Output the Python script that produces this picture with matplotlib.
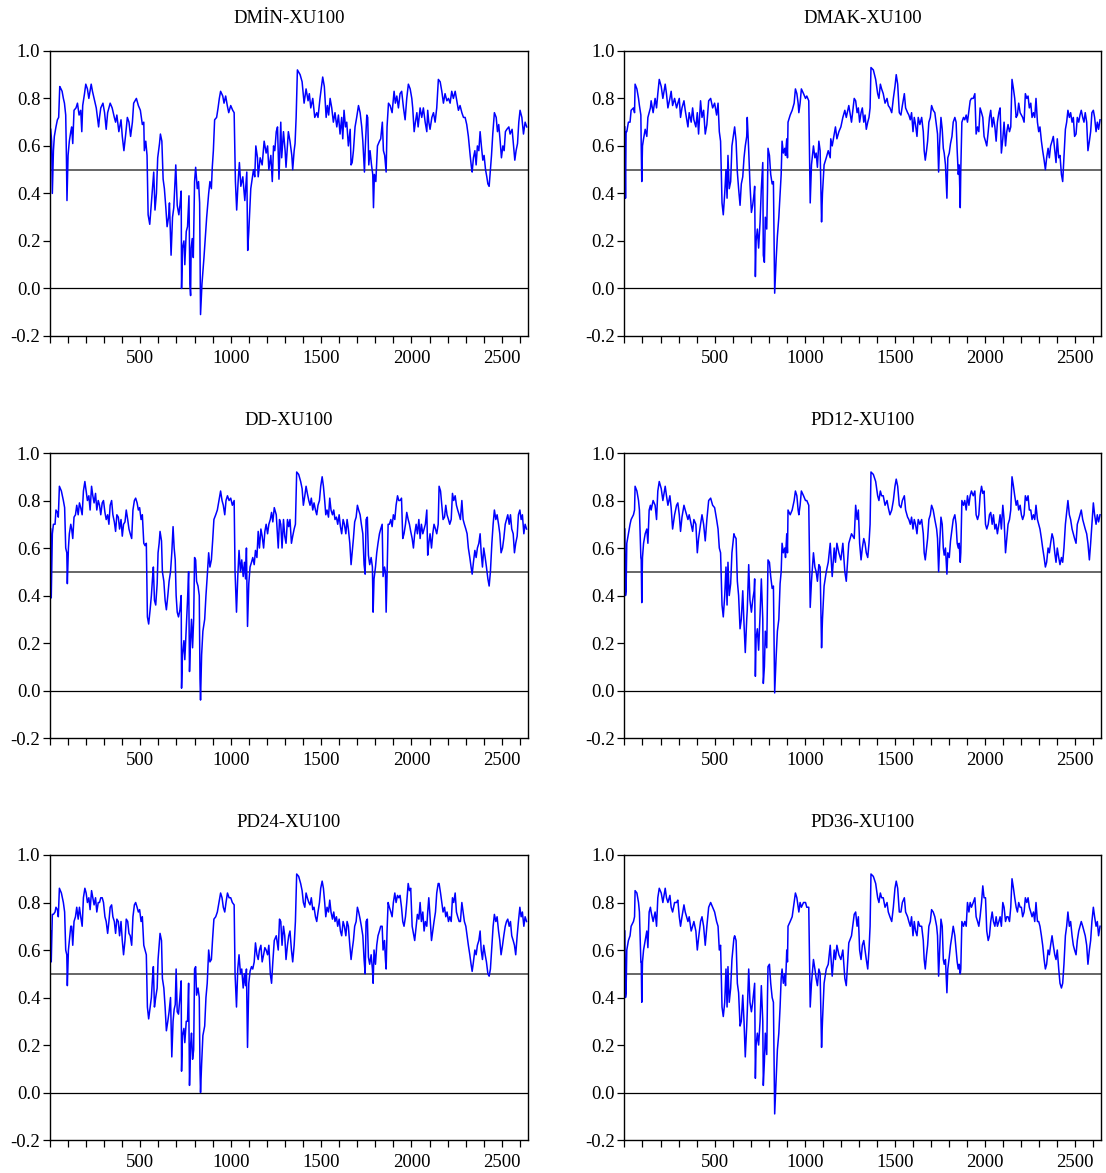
import matplotlib
matplotlib.use("Agg")
import matplotlib.pyplot as plt
from matplotlib.ticker import MultipleLocator, FuncFormatter

plt.rcParams['font.family'] = ['Liberation Serif', 'DejaVu Serif']
plt.rcParams['axes.unicode_minus'] = False

# ---------------- data (observation number, correlation) ----------------
titles = ["DMİN-XU100", "DMAK-XU100", "DD-XU100", "PD12-XU100", "PD24-XU100", "PD36-XU100"]

# DMIN-XU100
dmin_obs = [4, 9, 13, 19, 24, 33, 41, 48, 54, 61,
            67, 74, 80, 87, 91, 94, 100, 107, 115, 120,
            126, 133, 144, 152, 161, 170, 176, 181, 191, 198,
            207, 215, 228, 235, 244, 256, 269, 274, 281, 293,
            302, 311, 319, 333, 344, 356, 363, 370, 381, 393,
            400, 409, 419, 428, 437, 446, 456, 463, 478, 489,
            500, 511, 519, 522, 530, 537, 543, 552, 559, 570,
            574, 581, 589, 596, 606, 611, 619, 626, 633, 641,
            648, 656, 661, 670, 678, 685, 696, 704, 713, 719,
            726, 728, 733, 741, 746, 754, 761, 769, 774, 778,
            781, 787, 793, 800, 806, 815, 822, 828, 833, 841,
            852, 867, 878, 885, 893, 898, 904, 911, 922, 930,
            937, 944, 956, 963, 972, 981, 989, 1000, 1011, 1019,
            1026, 1033, 1041, 1048, 1056, 1067, 1078, 1089, 1094, 1100,
            1111, 1126, 1133, 1139, 1148, 1152, 1163, 1174, 1185, 1196,
            1204, 1211, 1222, 1230, 1237, 1244, 1252, 1259, 1267,
            1277, 1282, 1292, 1301, 1306, 1319, 1328, 1338, 1343, 1351,
            1356, 1362, 1369, 1384, 1395, 1406, 1417, 1428, 1435, 1443,
            1454, 1465, 1476, 1483, 1494, 1504, 1509, 1518, 1528, 1535,
            1542, 1550, 1559, 1568, 1577, 1587, 1596, 1605, 1614, 1620,
            1627, 1635, 1642, 1651, 1661, 1666, 1672, 1679, 1688, 1697,
            1707, 1716, 1725, 1731, 1740, 1745, 1753, 1758, 1764, 1771,
            1779, 1786, 1790, 1795, 1803, 1812, 1823, 1830, 1839, 1845,
            1852, 1860, 1865, 1873, 1882, 1893, 1904, 1911, 1919, 1928,
            1937, 1946, 1956, 1965, 1974, 1983, 1993, 2002, 2007, 2015,
            2022, 2030, 2037, 2048, 2057, 2066, 2076, 2085, 2090, 2096,
            2103, 2113, 2122, 2131, 2140, 2149, 2159, 2168, 2177, 2186,
            2196, 2205, 2214, 2223, 2232, 2242, 2251, 2260, 2269, 2279,
            2288, 2297, 2306, 2315, 2325, 2332, 2336, 2343, 2351, 2358,
            2365, 2373, 2380, 2387, 2395, 2402, 2410, 2417, 2423, 2430,
            2435, 2443, 2450, 2459, 2469, 2476, 2483, 2491, 2498, 2506,
            2513, 2520, 2528, 2539, 2546, 2557, 2565, 2572, 2579, 2587,
            2594, 2601, 2611, 2620, 2629, 2638]
dmin_val = [0.67, 0.62, 0.40, 0.58, 0.64, 0.68, 0.71, 0.72, 0.85, 0.84,
            0.83, 0.80, 0.78, 0.73, 0.55, 0.37, 0.56, 0.62, 0.66, 0.68,
            0.61, 0.75, 0.76, 0.78, 0.73, 0.75, 0.66, 0.77, 0.82, 0.86,
            0.84, 0.80, 0.86, 0.83, 0.80, 0.76, 0.68, 0.72, 0.76, 0.78,
            0.74, 0.67, 0.74, 0.78, 0.76, 0.72, 0.70, 0.73, 0.66, 0.71,
            0.64, 0.58, 0.65, 0.72, 0.70, 0.64, 0.70, 0.78, 0.80, 0.77,
            0.75, 0.69, 0.70, 0.58, 0.62, 0.56, 0.31, 0.27, 0.34, 0.45,
            0.49, 0.33, 0.40, 0.55, 0.61, 0.65, 0.62, 0.46, 0.42, 0.34,
            0.26, 0.30, 0.36, 0.14, 0.30, 0.34, 0.52, 0.35, 0.31, 0.35,
            0.41, 0.00, 0.17, 0.20, 0.10, 0.24, 0.26, 0.39, 0.02, -0.03,
            0.17, 0.21, 0.13, 0.45, 0.51, 0.42, 0.45, 0.36, -0.11, 0.02,
            0.13, 0.30, 0.40, 0.45, 0.42, 0.51, 0.58, 0.71, 0.72, 0.76,
            0.80, 0.83, 0.81, 0.78, 0.81, 0.77, 0.74, 0.77, 0.75, 0.74,
            0.45, 0.33, 0.45, 0.53, 0.43, 0.47, 0.37, 0.49, 0.16, 0.24,
            0.42, 0.50, 0.47, 0.60, 0.55, 0.47, 0.55, 0.52, 0.62, 0.57,
            0.60, 0.50, 0.56, 0.45, 0.60, 0.58, 0.66, 0.68, 0.46,
            0.70, 0.55, 0.66, 0.58, 0.51, 0.66, 0.62, 0.56, 0.50, 0.58,
            0.61, 0.72, 0.92, 0.90, 0.87, 0.78, 0.84, 0.79, 0.82, 0.76,
            0.80, 0.72, 0.74, 0.72, 0.80, 0.86, 0.89, 0.85, 0.72, 0.77,
            0.73, 0.80, 0.76, 0.70, 0.74, 0.68, 0.73, 0.65, 0.72, 0.63,
            0.75, 0.68, 0.70, 0.60, 0.67, 0.52, 0.53, 0.58, 0.68, 0.72,
            0.77, 0.74, 0.68, 0.62, 0.49, 0.60, 0.73, 0.72, 0.52, 0.58,
            0.52, 0.48, 0.34, 0.48, 0.45, 0.60, 0.62, 0.63, 0.70, 0.58,
            0.56, 0.49, 0.68, 0.78, 0.77, 0.74, 0.83, 0.78, 0.81, 0.76,
            0.82, 0.83, 0.76, 0.71, 0.80, 0.86, 0.84, 0.80, 0.76, 0.66,
            0.70, 0.74, 0.68, 0.76, 0.72, 0.76, 0.70, 0.66, 0.75, 0.70,
            0.67, 0.72, 0.74, 0.70, 0.76, 0.88, 0.87, 0.83, 0.78, 0.82,
            0.79, 0.80, 0.78, 0.83, 0.80, 0.83, 0.79, 0.75, 0.77, 0.74,
            0.72, 0.72, 0.69, 0.64, 0.56, 0.51, 0.49, 0.55, 0.58, 0.52,
            0.60, 0.58, 0.66, 0.60, 0.54, 0.56, 0.50, 0.47, 0.44, 0.43,
            0.48, 0.56, 0.65, 0.74, 0.72, 0.66, 0.69, 0.62, 0.55, 0.60,
            0.58, 0.66, 0.67, 0.68, 0.65, 0.67, 0.60, 0.54, 0.58, 0.61,
            0.70, 0.75, 0.72, 0.65, 0.70, 0.68]

# Shared observation grid for DD-XU100 and PD24-XU100
obs_a = [4, 7, 13, 19, 28, 33, 41, 46, 52, 63,
         74, 81, 87, 93, 96, 102, 107, 115, 120, 126,
         133, 141, 148, 156, 163, 170, 178, 185, 193, 200,
         207, 215, 222, 230, 237, 244, 252, 259, 267, 274,
         281, 289, 296, 304, 311, 319, 326, 333, 341, 348,
         356, 363, 370, 378, 385, 393, 400, 407, 415, 422,
         430, 437, 444, 452, 459, 467, 474, 482, 489, 496,
         504, 511, 519, 526, 533, 539, 546, 554, 561, 567,
         572, 578, 585, 593, 598, 604, 609, 617, 622, 630,
         637, 644, 652, 659, 667, 674, 681, 687, 693, 698,
         704, 711, 719, 726, 728, 733, 741, 746, 754, 761,
         767, 772, 778, 783, 789, 795, 800, 806, 811, 819,
         826, 830, 833, 839, 846, 856, 863, 870, 878, 885,
         893, 900, 907, 917, 926, 935, 944, 952, 959, 967,
         974, 982, 991, 1000, 1009, 1019, 1024, 1032, 1039, 1046,
         1054, 1061, 1069, 1076, 1082, 1087, 1093, 1100, 1107, 1115,
         1122, 1130, 1137, 1145, 1152, 1159, 1167, 1174, 1182, 1189,
         1196, 1204, 1211, 1219, 1226, 1233, 1241, 1252, 1263, 1270,
         1277, 1284, 1292, 1299, 1306, 1314, 1321, 1328, 1336, 1343,
         1351, 1358, 1365, 1376, 1387, 1395, 1402, 1410, 1417, 1424,
         1432, 1439, 1446, 1454, 1461, 1469, 1476, 1483, 1491, 1498,
         1506, 1513, 1520, 1526, 1533, 1541, 1548, 1555, 1563, 1570,
         1577, 1585, 1592, 1600, 1607, 1614, 1622, 1629, 1637, 1644,
         1651, 1659, 1666, 1672, 1679, 1686, 1694, 1701, 1708, 1716,
         1723, 1731, 1738, 1744, 1749, 1756, 1762, 1769, 1777, 1784,
         1788, 1793, 1801, 1808, 1815, 1823, 1830, 1838, 1843, 1851,
         1856, 1860, 1865, 1871, 1878, 1886, 1893, 1900, 1908, 1915,
         1923, 1930, 1937, 1945, 1952, 1959, 1967, 1974, 1982, 1989,
         1996, 2004, 2011, 2018, 2026, 2033, 2041, 2048, 2055, 2063,
         2070, 2077, 2085, 2090, 2096, 2103, 2111, 2118, 2125, 2133,
         2140, 2148, 2153, 2161, 2168, 2175, 2183, 2190, 2197, 2205,
         2212, 2220, 2227, 2234, 2242, 2249, 2256, 2264, 2271, 2279,
         2286, 2293, 2301, 2308, 2315, 2323, 2330, 2336, 2343, 2351,
         2358, 2365, 2373, 2380, 2386, 2393, 2400, 2408, 2415, 2423,
         2430, 2437, 2445, 2452, 2459, 2467, 2474, 2482, 2489, 2496,
         2504, 2511, 2519, 2526, 2533, 2541, 2548, 2555, 2563, 2570,
         2577, 2585, 2592, 2600, 2607, 2614, 2622, 2629, 2637]

dd_val = [0.68, 0.39, 0.66, 0.70, 0.70, 0.76, 0.75, 0.73, 0.86, 0.84,
          0.80, 0.77, 0.60, 0.58, 0.45, 0.60, 0.66, 0.70, 0.68, 0.64,
          0.73, 0.74, 0.78, 0.74, 0.79, 0.77, 0.74, 0.84, 0.88, 0.84,
          0.80, 0.82, 0.76, 0.86, 0.82, 0.79, 0.83, 0.76, 0.80, 0.78,
          0.74, 0.79, 0.80, 0.75, 0.72, 0.74, 0.70, 0.78, 0.80, 0.74,
          0.71, 0.67, 0.74, 0.73, 0.68, 0.72, 0.65, 0.70, 0.71, 0.76,
          0.72, 0.68, 0.66, 0.64, 0.76, 0.80, 0.81, 0.79, 0.76, 0.77,
          0.72, 0.74, 0.62, 0.61, 0.62, 0.31, 0.28, 0.34, 0.40, 0.47,
          0.52, 0.38, 0.36, 0.45, 0.58, 0.62, 0.67, 0.63, 0.50, 0.46,
          0.38, 0.34, 0.40, 0.46, 0.50, 0.58, 0.69, 0.60, 0.55, 0.40,
          0.33, 0.31, 0.34, 0.40, 0.01, 0.15, 0.21, 0.13, 0.26, 0.38,
          0.50, 0.08, 0.22, 0.30, 0.18, 0.30, 0.56, 0.55, 0.46, 0.44,
          0.40, 0.05, -0.04, 0.15, 0.25, 0.30, 0.40, 0.48, 0.58, 0.52,
          0.55, 0.63, 0.72, 0.74, 0.76, 0.80, 0.84, 0.80, 0.78, 0.74,
          0.80, 0.82, 0.80, 0.81, 0.78, 0.80, 0.50, 0.33, 0.48, 0.59,
          0.50, 0.55, 0.48, 0.54, 0.47, 0.60, 0.27, 0.45, 0.52, 0.54,
          0.56, 0.53, 0.59, 0.56, 0.67, 0.60, 0.68, 0.65, 0.60, 0.67,
          0.70, 0.66, 0.70, 0.72, 0.75, 0.71, 0.77, 0.74, 0.60, 0.72,
          0.70, 0.60, 0.72, 0.65, 0.62, 0.72, 0.69, 0.72, 0.62, 0.65,
          0.68, 0.70, 0.92, 0.91, 0.88, 0.85, 0.78, 0.82, 0.86, 0.83,
          0.80, 0.78, 0.81, 0.76, 0.79, 0.76, 0.74, 0.78, 0.80, 0.86,
          0.90, 0.86, 0.80, 0.74, 0.76, 0.73, 0.81, 0.76, 0.74, 0.76,
          0.72, 0.73, 0.70, 0.74, 0.69, 0.66, 0.72, 0.70, 0.66, 0.72,
          0.68, 0.62, 0.53, 0.58, 0.64, 0.71, 0.73, 0.78, 0.76, 0.74,
          0.70, 0.66, 0.53, 0.49, 0.72, 0.73, 0.57, 0.53, 0.56, 0.52,
          0.33, 0.47, 0.52, 0.58, 0.62, 0.66, 0.68, 0.70, 0.48, 0.52,
          0.50, 0.33, 0.48, 0.70, 0.70, 0.72, 0.69, 0.74, 0.72, 0.78,
          0.82, 0.80, 0.80, 0.81, 0.64, 0.66, 0.70, 0.75, 0.72, 0.70,
          0.67, 0.64, 0.60, 0.66, 0.70, 0.66, 0.72, 0.64, 0.70, 0.66,
          0.68, 0.70, 0.76, 0.57, 0.62, 0.66, 0.60, 0.66, 0.70, 0.68,
          0.66, 0.70, 0.86, 0.84, 0.78, 0.72, 0.73, 0.78, 0.74, 0.72,
          0.70, 0.72, 0.83, 0.80, 0.82, 0.78, 0.76, 0.74, 0.72, 0.80,
          0.72, 0.70, 0.68, 0.66, 0.60, 0.56, 0.52, 0.49, 0.54, 0.59,
          0.56, 0.60, 0.62, 0.66, 0.58, 0.52, 0.60, 0.56, 0.52, 0.47,
          0.44, 0.50, 0.62, 0.70, 0.76, 0.72, 0.74, 0.70, 0.66, 0.58,
          0.60, 0.64, 0.70, 0.72, 0.74, 0.70, 0.74, 0.68, 0.66, 0.58,
          0.62, 0.65, 0.74, 0.76, 0.72, 0.74, 0.66, 0.70, 0.68]

pd24_val = [0.68, 0.55, 0.75, 0.75, 0.76, 0.78, 0.77, 0.74, 0.86, 0.84,
            0.80, 0.76, 0.60, 0.58, 0.45, 0.60, 0.64, 0.70, 0.70, 0.62,
            0.72, 0.74, 0.78, 0.73, 0.78, 0.74, 0.70, 0.82, 0.86, 0.84,
            0.80, 0.82, 0.77, 0.85, 0.82, 0.79, 0.82, 0.76, 0.80, 0.80,
            0.82, 0.82, 0.80, 0.74, 0.72, 0.67, 0.72, 0.78, 0.79, 0.74,
            0.72, 0.67, 0.73, 0.72, 0.66, 0.72, 0.64, 0.58, 0.64, 0.73,
            0.72, 0.67, 0.66, 0.62, 0.74, 0.79, 0.80, 0.78, 0.76, 0.77,
            0.72, 0.74, 0.62, 0.60, 0.58, 0.36, 0.31, 0.36, 0.40, 0.48,
            0.53, 0.36, 0.40, 0.44, 0.56, 0.62, 0.67, 0.64, 0.48, 0.44,
            0.36, 0.26, 0.30, 0.34, 0.40, 0.15, 0.30, 0.35, 0.37, 0.52,
            0.34, 0.33, 0.40, 0.47, 0.09, 0.24, 0.27, 0.21, 0.30, 0.30,
            0.46, 0.03, 0.20, 0.25, 0.14, 0.18, 0.52, 0.53, 0.41, 0.44,
            0.40, 0.10, 0.00, 0.12, 0.24, 0.28, 0.40, 0.46, 0.60, 0.55,
            0.56, 0.65, 0.73, 0.74, 0.76, 0.80, 0.84, 0.82, 0.78, 0.76,
            0.80, 0.84, 0.82, 0.82, 0.80, 0.79, 0.50, 0.36, 0.52, 0.58,
            0.50, 0.52, 0.44, 0.50, 0.45, 0.52, 0.19, 0.46, 0.51, 0.53,
            0.52, 0.55, 0.63, 0.58, 0.56, 0.60, 0.62, 0.55, 0.58, 0.61,
            0.60, 0.58, 0.62, 0.50, 0.46, 0.55, 0.64, 0.66, 0.60, 0.73,
            0.72, 0.62, 0.70, 0.66, 0.56, 0.62, 0.66, 0.68, 0.60, 0.55,
            0.62, 0.72, 0.92, 0.91, 0.88, 0.85, 0.80, 0.78, 0.84, 0.82,
            0.80, 0.79, 0.82, 0.77, 0.78, 0.74, 0.72, 0.76, 0.80, 0.86,
            0.89, 0.86, 0.80, 0.74, 0.78, 0.76, 0.81, 0.76, 0.73, 0.76,
            0.72, 0.74, 0.70, 0.73, 0.68, 0.66, 0.72, 0.70, 0.66, 0.72,
            0.70, 0.62, 0.56, 0.60, 0.64, 0.70, 0.72, 0.78, 0.76, 0.73,
            0.70, 0.66, 0.56, 0.50, 0.72, 0.73, 0.57, 0.54, 0.58, 0.52,
            0.46, 0.60, 0.54, 0.62, 0.66, 0.68, 0.70, 0.70, 0.60, 0.64,
            0.56, 0.52, 0.68, 0.80, 0.78, 0.76, 0.74, 0.80, 0.84, 0.80,
            0.83, 0.82, 0.83, 0.78, 0.72, 0.70, 0.74, 0.80, 0.88, 0.85,
            0.86, 0.70, 0.67, 0.64, 0.70, 0.75, 0.73, 0.80, 0.72, 0.76,
            0.68, 0.72, 0.70, 0.76, 0.82, 0.74, 0.64, 0.68, 0.72, 0.76,
            0.84, 0.88, 0.88, 0.84, 0.80, 0.76, 0.78, 0.74, 0.76, 0.72,
            0.74, 0.72, 0.82, 0.80, 0.84, 0.76, 0.74, 0.72, 0.72, 0.80,
            0.76, 0.72, 0.70, 0.66, 0.62, 0.58, 0.54, 0.51, 0.55, 0.60,
            0.58, 0.62, 0.64, 0.68, 0.60, 0.56, 0.62, 0.58, 0.55, 0.50,
            0.49, 0.52, 0.62, 0.70, 0.75, 0.72, 0.74, 0.68, 0.64, 0.58,
            0.62, 0.66, 0.70, 0.72, 0.73, 0.70, 0.72, 0.66, 0.64, 0.62,
            0.58, 0.66, 0.72, 0.78, 0.74, 0.76, 0.70, 0.74, 0.72]

# Shared observation grid for DMAK-XU100, PD12-XU100 and PD36-XU100
obs_b = [2, 6, 9, 13, 22, 31, 37, 50, 56, 59,
         69, 78, 83, 91, 93, 96, 100, 106, 115, 124,
         130, 137, 144, 148, 159, 170, 178, 185, 193, 204,
         213, 226, 233, 241, 252, 259, 267, 278, 289, 296,
         304, 311, 319, 330, 337, 352, 359, 370, 378, 385,
         396, 404, 411, 422, 430, 439, 448, 457, 467, 478,
         489, 500, 511, 519, 526, 533, 541, 548, 556, 563,
         569, 574, 581, 589, 596, 607, 611, 619, 626, 633,
         641, 648, 656, 663, 670, 678, 681, 689, 696, 704,
         711, 719, 722, 726, 730, 737, 744, 752, 759, 767,
         770, 776, 781, 789, 793, 796, 804, 811, 819, 826,
         830, 833, 841, 848, 856, 863, 869, 874, 881, 889,
         893, 900, 904, 907, 919, 930, 941, 948, 956, 963,
         967, 974, 981, 993, 1004, 1011, 1022, 1030, 1037, 1048,
         1056, 1063, 1070, 1078, 1085, 1093, 1098, 1107, 1119, 1130,
         1141, 1144, 1152, 1163, 1170, 1178, 1189, 1200, 1211, 1222,
         1230, 1244, 1259, 1274,
         1282, 1290, 1297, 1304, 1312, 1319, 1327, 1334, 1341, 1349,
         1356, 1362, 1367, 1380, 1393, 1404, 1411, 1419, 1426, 1435,
         1445, 1456, 1463, 1472, 1482, 1491, 1500, 1507, 1515, 1524,
         1533, 1541, 1552, 1559, 1570, 1577, 1585, 1592, 1600, 1607,
         1614, 1622, 1629, 1638, 1648, 1657, 1662, 1668, 1675, 1681,
         1688, 1696, 1703, 1712, 1721, 1731, 1736, 1742, 1747, 1755,
         1762, 1768, 1773, 1780, 1788, 1793, 1801, 1808, 1816, 1823,
         1832, 1839, 1845, 1851, 1856, 1862, 1865, 1871, 1880, 1887,
         1895, 1902, 1910, 1917, 1924, 1934, 1943, 1950, 1958, 1965,
         1972, 1980, 1987, 1994, 2002, 2009, 2017, 2024, 2031, 2039,
         2046, 2054, 2061, 2068, 2076, 2083, 2090, 2098, 2105, 2113,
         2120, 2127, 2135, 2142, 2149, 2157, 2164, 2172, 2179, 2186,
         2194, 2201, 2208, 2216, 2223, 2231, 2238, 2245, 2253, 2260,
         2268, 2275, 2282, 2290, 2297, 2304, 2312, 2319, 2327, 2334,
         2341, 2349, 2356, 2363, 2371, 2378, 2386, 2393, 2400, 2408,
         2415, 2423, 2430, 2437, 2445, 2452, 2459, 2467, 2474, 2482,
         2489, 2496, 2504, 2511, 2519, 2526, 2533, 2541, 2548, 2555,
         2563, 2570, 2578, 2585, 2592, 2600, 2607, 2615, 2622, 2629, 2637]

dmak_val = [0.68, 0.38, 0.66, 0.66, 0.70, 0.70, 0.75, 0.76, 0.74, 0.86,
            0.84, 0.80, 0.77, 0.73, 0.60, 0.45, 0.60, 0.63, 0.67, 0.64,
            0.72, 0.74, 0.76, 0.79, 0.74, 0.80, 0.76, 0.82, 0.88, 0.85,
            0.80, 0.86, 0.82, 0.76, 0.80, 0.83, 0.77, 0.80, 0.76, 0.78,
            0.80, 0.72, 0.76, 0.79, 0.75, 0.68, 0.74, 0.70, 0.76, 0.71,
            0.68, 0.74, 0.65, 0.79, 0.72, 0.75, 0.65, 0.69, 0.79, 0.80,
            0.76, 0.78, 0.73, 0.78, 0.66, 0.62, 0.36, 0.31, 0.40, 0.50,
            0.38, 0.56, 0.42, 0.45, 0.60, 0.66, 0.68, 0.62, 0.49, 0.42,
            0.35, 0.44, 0.47, 0.55, 0.60, 0.64, 0.72, 0.58, 0.44, 0.32,
            0.35, 0.40, 0.43, 0.05, 0.20, 0.25, 0.17, 0.28, 0.42, 0.53,
            0.14, 0.11, 0.30, 0.25, 0.41, 0.59, 0.56, 0.48, 0.44, 0.45,
            0.17, -0.02, 0.12, 0.22, 0.30, 0.40, 0.48, 0.62, 0.57, 0.59,
            0.56, 0.63, 0.55, 0.70, 0.73, 0.75, 0.78, 0.84, 0.82, 0.78,
            0.74, 0.78, 0.84, 0.82, 0.80, 0.81, 0.79, 0.36, 0.52, 0.60,
            0.55, 0.57, 0.51, 0.62, 0.58, 0.28, 0.40, 0.52, 0.55, 0.58,
            0.55, 0.63, 0.60, 0.65, 0.68, 0.63, 0.66, 0.68, 0.72, 0.75,
            0.72, 0.77, 0.70, 0.80,
            0.79, 0.74, 0.76, 0.70, 0.74, 0.76, 0.70, 0.73, 0.67, 0.70,
            0.72, 0.76, 0.93, 0.92, 0.88, 0.82, 0.80, 0.86, 0.84, 0.82,
            0.78, 0.80, 0.77, 0.76, 0.74, 0.80, 0.85, 0.90, 0.86, 0.74,
            0.73, 0.77, 0.82, 0.76, 0.74, 0.73, 0.71, 0.74, 0.66, 0.72,
            0.69, 0.64, 0.72, 0.69, 0.72, 0.66, 0.58, 0.54, 0.58, 0.62,
            0.70, 0.72, 0.77, 0.75, 0.74, 0.68, 0.65, 0.49, 0.60, 0.72,
            0.67, 0.59, 0.57, 0.52, 0.38, 0.55, 0.57, 0.61, 0.64, 0.70,
            0.72, 0.70, 0.58, 0.48, 0.52, 0.34, 0.50, 0.70, 0.72, 0.71,
            0.73, 0.70, 0.75, 0.79, 0.80, 0.80, 0.82, 0.65, 0.68, 0.66,
            0.76, 0.74, 0.72, 0.64, 0.62, 0.60, 0.66, 0.72, 0.75, 0.68,
            0.72, 0.68, 0.62, 0.70, 0.74, 0.76, 0.57, 0.63, 0.70, 0.60,
            0.66, 0.69, 0.66, 0.68, 0.88, 0.84, 0.80, 0.72, 0.73, 0.78,
            0.74, 0.73, 0.72, 0.70, 0.82, 0.80, 0.81, 0.76, 0.78, 0.72,
            0.74, 0.72, 0.80, 0.70, 0.66, 0.68, 0.62, 0.58, 0.54, 0.50,
            0.55, 0.59, 0.55, 0.60, 0.62, 0.64, 0.58, 0.53, 0.63, 0.55,
            0.56, 0.48, 0.45, 0.55, 0.67, 0.70, 0.75, 0.72, 0.74, 0.70,
            0.72, 0.64, 0.65, 0.72, 0.70, 0.73, 0.75, 0.72, 0.70, 0.74,
            0.70, 0.58, 0.62, 0.66, 0.74, 0.75, 0.72, 0.66, 0.70, 0.67, 0.71]

pd12_val = [0.68, 0.40, 0.42, 0.62, 0.66, 0.70, 0.72, 0.74, 0.76, 0.86,
            0.84, 0.80, 0.76, 0.56, 0.55, 0.37, 0.56, 0.62, 0.66, 0.68,
            0.62, 0.76, 0.78, 0.76, 0.80, 0.78, 0.72, 0.84, 0.88, 0.85,
            0.80, 0.86, 0.82, 0.78, 0.82, 0.77, 0.68, 0.74, 0.78, 0.79,
            0.74, 0.67, 0.73, 0.78, 0.76, 0.72, 0.74, 0.70, 0.67, 0.72,
            0.70, 0.58, 0.64, 0.70, 0.74, 0.70, 0.63, 0.72, 0.80, 0.81,
            0.78, 0.77, 0.72, 0.68, 0.60, 0.58, 0.36, 0.31, 0.40, 0.52,
            0.36, 0.54, 0.40, 0.45, 0.58, 0.66, 0.65, 0.64, 0.46, 0.40,
            0.26, 0.30, 0.42, 0.28, 0.16, 0.30, 0.34, 0.53, 0.38, 0.33,
            0.38, 0.42, 0.47, 0.06, 0.22, 0.26, 0.17, 0.32, 0.47, 0.30,
            0.03, 0.10, 0.25, 0.18, 0.40, 0.55, 0.54, 0.48, 0.43, 0.44,
            0.20, -0.01, 0.14, 0.25, 0.30, 0.45, 0.50, 0.62, 0.58, 0.60,
            0.56, 0.66, 0.58, 0.76, 0.74, 0.76, 0.80, 0.84, 0.82, 0.76,
            0.74, 0.78, 0.84, 0.82, 0.80, 0.80, 0.78, 0.35, 0.46, 0.58,
            0.52, 0.50, 0.46, 0.53, 0.52, 0.18, 0.30, 0.44, 0.50, 0.54,
            0.62, 0.58, 0.48, 0.60, 0.54, 0.62, 0.58, 0.55, 0.62, 0.50,
            0.46, 0.62, 0.66, 0.64,
            0.78, 0.72, 0.76, 0.62, 0.55, 0.60, 0.64, 0.62, 0.58, 0.56,
            0.62, 0.70, 0.92, 0.91, 0.88, 0.82, 0.80, 0.84, 0.82, 0.82,
            0.78, 0.80, 0.77, 0.74, 0.76, 0.80, 0.86, 0.89, 0.86, 0.78,
            0.77, 0.80, 0.82, 0.76, 0.73, 0.72, 0.70, 0.73, 0.68, 0.72,
            0.70, 0.66, 0.72, 0.70, 0.72, 0.66, 0.58, 0.55, 0.60, 0.64,
            0.72, 0.74, 0.78, 0.76, 0.72, 0.68, 0.64, 0.50, 0.60, 0.73,
            0.70, 0.60, 0.57, 0.60, 0.49, 0.58, 0.56, 0.63, 0.68, 0.72,
            0.74, 0.70, 0.62, 0.60, 0.62, 0.54, 0.58, 0.80, 0.78, 0.80,
            0.76, 0.82, 0.78, 0.82, 0.84, 0.82, 0.84, 0.74, 0.72, 0.74,
            0.82, 0.86, 0.83, 0.84, 0.70, 0.68, 0.70, 0.74, 0.75, 0.70,
            0.74, 0.68, 0.70, 0.66, 0.70, 0.74, 0.68, 0.78, 0.72, 0.58,
            0.64, 0.70, 0.72, 0.76, 0.90, 0.86, 0.82, 0.78, 0.80, 0.76,
            0.78, 0.74, 0.72, 0.74, 0.82, 0.80, 0.82, 0.76, 0.76, 0.72,
            0.74, 0.72, 0.78, 0.72, 0.70, 0.68, 0.64, 0.60, 0.56, 0.52,
            0.54, 0.60, 0.58, 0.62, 0.66, 0.64, 0.58, 0.54, 0.60, 0.56,
            0.53, 0.56, 0.54, 0.60, 0.70, 0.75, 0.80, 0.74, 0.72, 0.68,
            0.66, 0.64, 0.62, 0.70, 0.72, 0.74, 0.76, 0.72, 0.70, 0.68,
            0.66, 0.62, 0.55, 0.62, 0.70, 0.79, 0.74, 0.70, 0.74, 0.71, 0.74]

pd36_val = [0.68, 0.40, 0.42, 0.60, 0.64, 0.66, 0.70, 0.72, 0.74, 0.85,
            0.84, 0.80, 0.76, 0.55, 0.55, 0.38, 0.55, 0.60, 0.64, 0.68,
            0.61, 0.76, 0.78, 0.76, 0.72, 0.76, 0.70, 0.82, 0.86, 0.84,
            0.80, 0.86, 0.82, 0.80, 0.83, 0.78, 0.76, 0.80, 0.80, 0.81,
            0.74, 0.70, 0.74, 0.79, 0.76, 0.72, 0.74, 0.68, 0.70, 0.72,
            0.68, 0.60, 0.65, 0.72, 0.74, 0.70, 0.62, 0.70, 0.78, 0.80,
            0.78, 0.76, 0.72, 0.70, 0.60, 0.62, 0.36, 0.32, 0.38, 0.52,
            0.36, 0.53, 0.38, 0.44, 0.56, 0.65, 0.66, 0.64, 0.46, 0.42,
            0.28, 0.30, 0.41, 0.30, 0.15, 0.28, 0.34, 0.52, 0.38, 0.34,
            0.38, 0.44, 0.46, 0.06, 0.20, 0.25, 0.20, 0.30, 0.45, 0.30,
            0.03, 0.13, 0.25, 0.16, 0.40, 0.53, 0.54, 0.46, 0.40, 0.38,
            0.10, -0.09, 0.06, 0.18, 0.25, 0.36, 0.48, 0.52, 0.46, 0.50,
            0.45, 0.60, 0.55, 0.70, 0.72, 0.74, 0.80, 0.84, 0.82, 0.78,
            0.76, 0.80, 0.78, 0.80, 0.80, 0.78, 0.78, 0.36, 0.46, 0.56,
            0.52, 0.48, 0.45, 0.52, 0.50, 0.19, 0.30, 0.46, 0.52, 0.54,
            0.62, 0.58, 0.49, 0.60, 0.56, 0.62, 0.58, 0.56, 0.60, 0.48,
            0.45, 0.63, 0.66, 0.75,
            0.76, 0.70, 0.74, 0.60, 0.56, 0.62, 0.64, 0.60, 0.56, 0.52,
            0.60, 0.70, 0.92, 0.91, 0.88, 0.82, 0.80, 0.84, 0.82, 0.82,
            0.78, 0.80, 0.76, 0.74, 0.72, 0.78, 0.86, 0.89, 0.86, 0.76,
            0.76, 0.80, 0.82, 0.76, 0.74, 0.72, 0.70, 0.74, 0.66, 0.72,
            0.68, 0.66, 0.72, 0.70, 0.70, 0.64, 0.56, 0.52, 0.58, 0.62,
            0.70, 0.72, 0.77, 0.76, 0.74, 0.70, 0.66, 0.49, 0.58, 0.73,
            0.70, 0.56, 0.54, 0.56, 0.42, 0.52, 0.57, 0.62, 0.66, 0.70,
            0.66, 0.60, 0.55, 0.52, 0.54, 0.50, 0.52, 0.72, 0.70, 0.72,
            0.70, 0.80, 0.76, 0.80, 0.78, 0.80, 0.82, 0.74, 0.72, 0.70,
            0.74, 0.80, 0.87, 0.82, 0.82, 0.68, 0.64, 0.66, 0.72, 0.76,
            0.72, 0.70, 0.74, 0.70, 0.72, 0.74, 0.70, 0.80, 0.78, 0.72,
            0.74, 0.74, 0.72, 0.78, 0.90, 0.86, 0.82, 0.78, 0.76, 0.80,
            0.78, 0.78, 0.74, 0.76, 0.82, 0.80, 0.82, 0.78, 0.76, 0.74,
            0.76, 0.72, 0.80, 0.72, 0.72, 0.70, 0.66, 0.62, 0.56, 0.52,
            0.54, 0.60, 0.58, 0.62, 0.66, 0.62, 0.58, 0.56, 0.60, 0.52,
            0.46, 0.44, 0.46, 0.54, 0.66, 0.70, 0.76, 0.70, 0.72, 0.66,
            0.62, 0.60, 0.58, 0.64, 0.68, 0.70, 0.72, 0.70, 0.68, 0.66,
            0.62, 0.54, 0.60, 0.64, 0.72, 0.78, 0.74, 0.70, 0.72, 0.66, 0.70]

series = [(dmin_obs, dmin_val), (obs_b, dmak_val),
          (obs_a, dd_val), (obs_b, pd12_val),
          (obs_a, pd24_val), (obs_b, pd36_val)]

y_ticks = [-0.2, 0.0, 0.2, 0.4, 0.6, 0.8, 1.0]
x_labelled = [500, 1000, 1500, 2000, 2500]
n_obs = 2645

# ---------------- figure ----------------
fig = plt.figure(figsize=(11.06, 11.73), dpi=100)
lefts = [0.0452, 0.5646]
widths = [0.4322, 0.4313]
bottoms = [0.7136, 0.3708, 0.0281]
height = 0.2430

def xfmt(v, pos):
    iv = int(round(v))
    return str(iv) if iv in x_labelled else ""

for i, (title, (xs, ys)) in enumerate(zip(titles, series)):
    assert len(xs) == len(ys), (title, len(xs), len(ys))
    r, c = divmod(i, 2)
    ax = fig.add_axes([lefts[c], bottoms[r], widths[c], height])
    ax.axhline(0.5, color='#5a5a5a', lw=1.3, zorder=1)
    ax.axhline(0.0, color='black', lw=0.9, zorder=1)
    ax.plot(xs, ys, color='#0000ff', lw=1.1, zorder=2)
    ax.set_xlim(0, n_obs)
    ax.set_ylim(-0.2, 1.0)
    ax.set_yticks(y_ticks)
    ax.yaxis.set_major_formatter(FuncFormatter(lambda v, p: f"{v:.1f}"))
    ax.xaxis.set_major_locator(MultipleLocator(100))
    ax.xaxis.set_major_formatter(FuncFormatter(xfmt))
    ax.tick_params(axis='both', direction='out', length=5, width=0.9,
                   labelsize=13.5, top=False, right=False, colors='black')
    ax.tick_params(axis='x', pad=5)
    ax.tick_params(axis='y', pad=2)
    for s in ax.spines.values():
        s.set_linewidth(1.0)
        s.set_color('black')
    ax.set_title(title, fontsize=13.5, pad=20)

fig.savefig("out.png", dpi=100)
